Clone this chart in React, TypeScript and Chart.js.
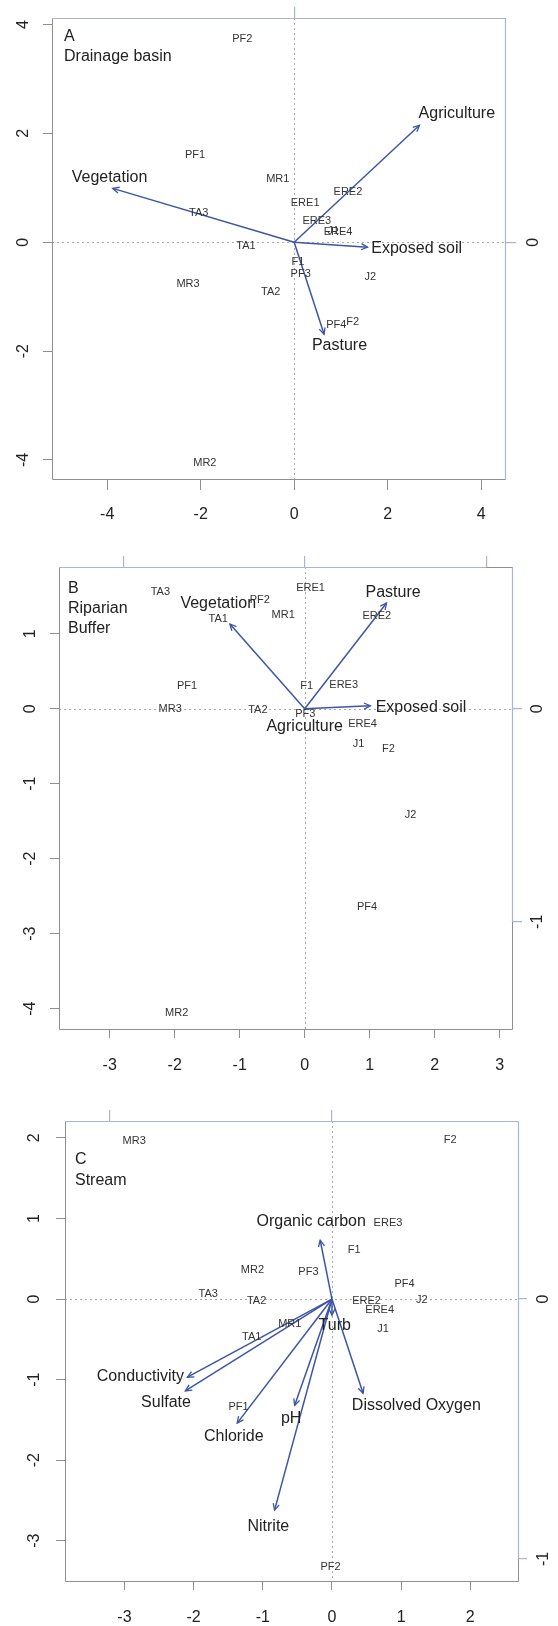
import React, { useEffect, useRef } from 'react';
import { Chart, registerables } from 'chart.js';

Chart.register(...registerables);

// ---------- Panel A: Drainage basin ----------
const sitesA = ['PF2', 'PF1', 'MR1', 'TA3', 'ERE1', 'ERE2', 'ERE3', 'ERE4', 'J1', 'TA1', 'F1', 'PF3', 'J2', 'MR3', 'TA2', 'PF4', 'F2', 'MR2'];
const siteAX = [-1.11, -2.12, -0.35, -2.04, 0.235, 1.15, 0.485, 0.94, 0.84, -1.03, 0.08, 0.14, 1.63, -2.27, -0.5, 0.9, 1.25, -1.91];
const siteAY = [3.74, 1.61, 1.17, 0.53, 0.72, 0.92, 0.39, 0.19, 0.2, -0.07, -0.37, -0.59, -0.64, -0.77, -0.92, -1.52, -1.47, -4.05];
const varsA = ['Agriculture', 'Vegetation', 'Exposed soil', 'Pasture'];
const varAX = [2.68, -3.88, 1.57, 0.64];
const varAY = [2.15, 0.99, -0.09, -1.69];
const varALabX = [3.48, -3.95, 2.62, 0.97];
const varALabY = [2.36, 1.18, -0.12, -1.9];
const ticksAX = [-4, -2, 0, 2, 4];
const ticksAY = [-4, -2, 0, 2, 4];
const ticksATop = [0];
const ticksARight = [0];
const titleA = ['A', 'Drainage basin'];

// ---------- Panel B: Riparian Buffer ----------
const sitesB = ['TA3', 'ERE1', 'PF2', 'TA1', 'MR1', 'ERE2', 'PF1', 'F1', 'ERE3', 'MR3', 'TA2', 'PF3', 'ERE4', 'J1', 'F2', 'J2', 'PF4', 'MR2'];
const siteBX = [-2.22, 0.09, -0.69, -1.33, -0.33, 1.11, -1.81, 0.03, 0.6, -2.07, -0.72, 0.01, 0.89, 0.83, 1.29, 1.63, 0.96, -1.97];
const siteBY = [1.56, 1.61, 1.45, 1.2, 1.25, 1.24, 0.3, 0.3, 0.32, 0.0, -0.02, -0.07, -0.2, -0.47, -0.53, -1.41, -2.64, -4.05];
const varsB = ['Pasture', 'Vegetation', 'Exposed soil', 'Agriculture'];
const varBX = [1.26, -1.15, 1.01, 0.0];
const varBY = [1.41, 1.13, 0.04, -0.02];
const varBLabX = [1.36, -1.33, 1.79, 0.0];
const varBLabY = [1.55, 1.4, 0.01, -0.24];
const ticksBX = [-3, -2, -1, 0, 1, 2, 3];
const ticksBY = [-4, -3, -2, -1, 0, 1];
const ticksBTop = [-1, 0, 1];
const ticksBRight = [0, -1];
const titleB = ['B', 'Riparian', 'Buffer'];

// ---------- Panel C: Stream ----------
const sitesC = ['MR3', 'F2', 'ERE3', 'F1', 'MR2', 'PF3', 'PF4', 'TA3', 'TA2', 'ERE2', 'J2', 'ERE4', 'MR1', 'J1', 'TA1', 'PF1', 'PF2'];
const siteCX = [-2.86, 1.71, 0.81, 0.32, -1.15, -0.34, 1.05, -1.79, -1.09, 0.5, 1.3, 0.69, -0.61, 0.74, -1.16, -1.35, -0.02];
const siteCY = [1.96, 1.98, 0.94, 0.61, 0.36, 0.34, 0.19, 0.06, -0.02, -0.02, -0.01, -0.14, -0.31, -0.37, -0.47, -1.34, -3.33];
const varsC = ['Organic carbon', 'Turb', 'Conductivity', 'Sulfate', 'Chloride', 'pH', 'Nitrite', 'Dissolved Oxygen'];
const varCX = [-0.17, 0.0, -2.09, -2.12, -1.37, -0.54, -0.83, 0.45];
const varCY = [0.73, -0.2, -0.97, -1.14, -1.54, -1.32, -2.62, -1.17];
const varCLabX = [-0.3, 0.04, -2.77, -2.4, -1.42, -0.59, -0.92, 1.22];
const varCLabY = [0.96, -0.33, -0.96, -1.29, -1.71, -1.48, -2.82, -1.32];
const ticksCX = [-3, -2, -1, 0, 1, 2];
const ticksCY = [-3, -2, -1, 0, 1, 2];
const ticksCTop = [-1, 0];
const ticksCRight = [0, -1];
const titleC = ['C', 'Stream'];

// ---------- styling ----------
const FONT = '"Liberation Sans", Arial, Helvetica, sans-serif';
const GRAY = '#8f8f8f';
const BLUE_AX = '#aab3d8';
const ARROW = '#3d55a6';
const TXT = '#222222';
const DOT = '#a8a8a8';

type Panel = {
  top: number; h: number;
  sites: string[]; sx: number[]; sy: number[];
  vars: string[]; vx: number[]; vy: number[]; lx: number[]; ly: number[];
  xTicks: number[]; yTicks: number[]; topTicks: number[]; rightTicks: number[];
  xMin: number; xMax: number; yMin: number; yMax: number; kTop: number; kRight: number;
  topLine: [number | null, number | null]; rightLine: [number | null, number | null];
  title: string[];
  lay: {
    left: number; right: number; topH: number; bottomH: number;
    bottomTL: number; bottomPad: number; leftTL: number; leftPad: number;
    topTL: number; rightTL: number; rightPad: number;
    titleDX: number; titleDY: number; titleLH: number;
  };
};

const panels: Panel[] = [
  {
    top: 0, h: 540,
    sites: sitesA, sx: siteAX, sy: siteAY,
    vars: varsA, vx: varAX, vy: varAY, lx: varALabX, ly: varALabY,
    xTicks: ticksAX, yTicks: ticksAY, topTicks: ticksATop, rightTicks: ticksARight,
    xMin: -5.18, xMax: 4.51, yMin: -4.35, yMax: 4.12, kTop: 0.5, kRight: 0.5,
    topLine: [null, null], rightLine: [null, null],
    title: titleA,
    lay: { left: 52, right: 53, topH: 18, bottomH: 61, bottomTL: 11, bottomPad: 15, leftTL: 9, leftPad: 12, topTL: 11, rightTL: 11, rightPad: 13, titleDX: 12, titleDY: 19, titleLH: 20 },
  },
  {
    top: 540, h: 550,
    sites: sitesB, sx: siteBX, sy: siteBY,
    vars: varsB, vx: varBX, vy: varBY, lx: varBLabX, ly: varBLabY,
    xTicks: ticksBX, yTicks: ticksBY, topTicks: ticksBTop, rightTicks: ticksBRight,
    xMin: -3.78, xMax: 3.19, yMin: -4.27, yMax: 1.89, kTop: 0.358, kRight: 0.352,
    topLine: [null, 1], rightLine: [-1, null],
    title: titleB,
    lay: { left: 59, right: 46, topH: 27, bottomH: 61, bottomTL: 9, bottomPad: 18, leftTL: 9, leftPad: 12, topTL: 11, rightTL: 10, rightPad: 8, titleDX: 9, titleDY: 22, titleLH: 20 },
  },
  {
    top: 1090, h: 536,
    sites: sitesC, sx: siteCX, sy: siteCY,
    vars: varsC, vx: varCX, vy: varCY, lx: varCLabX, ly: varCLabY,
    xTicks: ticksCX, yTicks: ticksCY, topTicks: ticksCTop, rightTicks: ticksCRight,
    xMin: -3.86, xMax: 2.69, yMin: -3.5, yMax: 2.21, kTop: 0.311, kRight: 0.31,
    topLine: [null, null], rightLine: [-1, null],
    title: titleC,
    lay: { left: 65, right: 40, topH: 31, bottomH: 45, bottomTL: 9, bottomPad: 18, leftTL: 9, leftPad: 14, topTL: 11, rightTL: 9, rightPad: 9, titleDX: 10, titleDY: 39, titleLH: 21 },
  },
];

function zeroPad(s: any) {
  s.paddingLeft = 0; s.paddingRight = 0; s.paddingTop = 0; s.paddingBottom = 0;
}

function buildConfig(p: Panel): any {
  const L = p.lay;
  const tickFont = { family: FONT, size: 16 };
  const nArrows = p.vars.length;

  const datasets: any[] = [];
  datasets.push({
    label: 'sites',
    data: p.sx.map((x, i) => ({ x, y: p.sy[i] })),
    pointRadius: 0, showLine: false,
  });
  p.vx.forEach((x, i) => {
    datasets.push({
      label: p.vars[i],
      data: [{ x: 0, y: 0 }, { x, y: p.vy[i] }],
      showLine: true, borderColor: ARROW, borderWidth: 1.5, pointRadius: 0, fill: false,
    });
  });
  datasets.push({
    label: 'varLabels',
    data: p.lx.map((x, i) => ({ x, y: p.ly[i] })),
    pointRadius: 0, showLine: false,
  });

  const plugin = {
    id: 'biplotDecor',
    beforeDatasetsDraw(chart: any) {
      const { ctx, chartArea: a } = chart;
      const xs = chart.scales.x, ys = chart.scales.y;
      ctx.save();
      // dotted reference lines at 0
      ctx.strokeStyle = DOT; ctx.lineWidth = 1; ctx.setLineDash([2, 3]);
      const x0 = Math.round(xs.getPixelForValue(0)) + 0.5;
      const y0 = Math.round(ys.getPixelForValue(0)) + 0.5;
      ctx.beginPath();
      ctx.moveTo(x0, a.top); ctx.lineTo(x0, a.bottom);
      ctx.moveTo(a.left, y0); ctx.lineTo(a.right, y0);
      ctx.stroke();
      ctx.setLineDash([]);
      // box
      const l = Math.round(a.left) + 0.5, r = Math.round(a.right) + 0.5;
      const t = Math.round(a.top) + 0.5, b = Math.round(a.bottom) + 0.5;
      ctx.strokeStyle = GRAY; ctx.lineWidth = 1;
      ctx.beginPath();
      ctx.moveTo(l, t); ctx.lineTo(r, t); ctx.lineTo(r, b); ctx.lineTo(l, b); ctx.closePath();
      ctx.stroke();
      // secondary (blue) axis lines
      const x2 = chart.scales.x2, y2 = chart.scales.y2;
      const clampX = (v: number) => Math.max(l, Math.min(r, v));
      const clampY = (v: number) => Math.max(t, Math.min(b, v));
      const tx0 = p.topLine[0] == null ? l : clampX(x2.getPixelForValue(p.topLine[0]));
      const tx1 = p.topLine[1] == null ? r : clampX(x2.getPixelForValue(p.topLine[1]));
      const ry0 = p.rightLine[1] == null ? t : clampY(y2.getPixelForValue(p.rightLine[1]));
      const ry1 = p.rightLine[0] == null ? b : clampY(y2.getPixelForValue(p.rightLine[0]));
      ctx.strokeStyle = BLUE_AX; ctx.lineWidth = 1.2;
      ctx.beginPath();
      ctx.moveTo(tx0, t); ctx.lineTo(tx1, t);
      ctx.moveTo(r, ry0); ctx.lineTo(r, ry1);
      ctx.stroke();
      ctx.restore();
    },
    afterDatasetsDraw(chart: any) {
      const { ctx, chartArea: a } = chart;
      ctx.save();
      // arrowheads
      ctx.strokeStyle = ARROW; ctx.lineWidth = 1.3;
      for (let i = 0; i < nArrows; i++) {
        const meta = chart.getDatasetMeta(i + 1);
        const p0 = meta.data[0], p1 = meta.data[1];
        const dx = p1.x - p0.x, dy = p1.y - p0.y;
        if (Math.hypot(dx, dy) < 4) continue;
        const ang = Math.atan2(dy, dx);
        const len = 7, th = 0.45;
        ctx.beginPath();
        ctx.moveTo(p1.x - len * Math.cos(ang - th), p1.y - len * Math.sin(ang - th));
        ctx.lineTo(p1.x, p1.y);
        ctx.lineTo(p1.x - len * Math.cos(ang + th), p1.y - len * Math.sin(ang + th));
        ctx.stroke();
      }
      // site labels
      ctx.textAlign = 'center'; ctx.textBaseline = 'middle';
      ctx.fillStyle = '#333333';
      ctx.font = `11px ${FONT}`;
      const sm = chart.getDatasetMeta(0);
      sm.data.forEach((el: any, i: number) => ctx.fillText(p.sites[i], el.x, el.y));
      // variable labels
      ctx.fillStyle = '#222222';
      ctx.font = `16px ${FONT}`;
      const vm = chart.getDatasetMeta(nArrows + 1);
      vm.data.forEach((el: any, i: number) => ctx.fillText(p.vars[i], el.x, el.y));
      // panel title
      ctx.textAlign = 'left';
      p.title.forEach((s, i) => ctx.fillText(s, a.left + L.titleDX, a.top + L.titleDY + i * L.titleLH));
      ctx.restore();
    },
  };

  return {
    type: 'scatter',
    data: { datasets },
    options: {
      animation: false,
      responsive: false,
      devicePixelRatio: 1,
      events: [],
      layout: { padding: 0 },
      plugins: { legend: { display: false }, tooltip: { enabled: false } },
      scales: {
        x: {
          type: 'linear', position: 'bottom', min: p.xMin, max: p.xMax,
          afterBuildTicks: (s: any) => { s.ticks = p.xTicks.map((v) => ({ value: v })); },
          afterFit: (s: any) => { s.height = L.bottomH; zeroPad(s); },
          grid: { drawOnChartArea: false, drawTicks: true, tickLength: L.bottomTL, tickColor: GRAY, color: GRAY, lineWidth: 1 },
          border: { display: false },
          ticks: { padding: L.bottomPad, color: TXT, font: tickFont, autoSkip: false, minRotation: 0, maxRotation: 0, callback: (v: any) => String(v) },
        },
        y: {
          type: 'linear', position: 'left', min: p.yMin, max: p.yMax,
          afterBuildTicks: (s: any) => { s.ticks = p.yTicks.map((v) => ({ value: v })); },
          afterFit: (s: any) => { s.width = L.left; zeroPad(s); },
          grid: { drawOnChartArea: false, drawTicks: true, tickLength: L.leftTL, tickColor: GRAY, color: GRAY, lineWidth: 1 },
          border: { display: false },
          ticks: { padding: L.leftPad, color: TXT, font: tickFont, autoSkip: false, minRotation: 90, maxRotation: 90, crossAlign: 'center', callback: (v: any) => String(v) },
        },
        x2: {
          type: 'linear', position: 'top', min: p.xMin * p.kTop, max: p.xMax * p.kTop,
          afterBuildTicks: (s: any) => { s.ticks = p.topTicks.map((v) => ({ value: v })); },
          afterFit: (s: any) => { s.height = L.topH; zeroPad(s); },
          grid: { drawOnChartArea: false, drawTicks: true, tickLength: L.topTL, tickColor: BLUE_AX, color: BLUE_AX, lineWidth: 1.2 },
          border: { display: false },
          ticks: { display: false },
        },
        y2: {
          type: 'linear', position: 'right', min: p.yMin * p.kRight, max: p.yMax * p.kRight,
          afterBuildTicks: (s: any) => { s.ticks = p.rightTicks.map((v) => ({ value: v })); },
          afterFit: (s: any) => { s.width = L.right; zeroPad(s); },
          grid: { drawOnChartArea: false, drawTicks: true, tickLength: L.rightTL, tickColor: BLUE_AX, color: BLUE_AX, lineWidth: 1.2 },
          border: { display: false },
          ticks: { padding: L.rightPad, color: TXT, font: tickFont, autoSkip: false, minRotation: 90, maxRotation: 90, crossAlign: 'center', callback: (v: any) => String(v) },
        },
      },
    },
    plugins: [plugin],
  };
}

function BiplotPanel({ p }: { p: Panel }) {
  const ref = useRef<HTMLCanvasElement>(null);
  useEffect(() => {
    if (!ref.current) return;
    const chart = new Chart(ref.current, buildConfig(p));
    return () => chart.destroy();
  }, [p]);
  return (
    <canvas
      ref={ref}
      width={558}
      height={p.h}
      style={{ position: 'absolute', left: 0, top: p.top, width: 558, height: p.h, display: 'block' }}
    />
  );
}

export default function App() {
  return (
    <div style={{ position: 'absolute', left: 0, top: 0, width: 558, height: 1626, background: '#ffffff' }}>
      {panels.map((p, i) => (
        <BiplotPanel key={i} p={p} />
      ))}
    </div>
  );
}
